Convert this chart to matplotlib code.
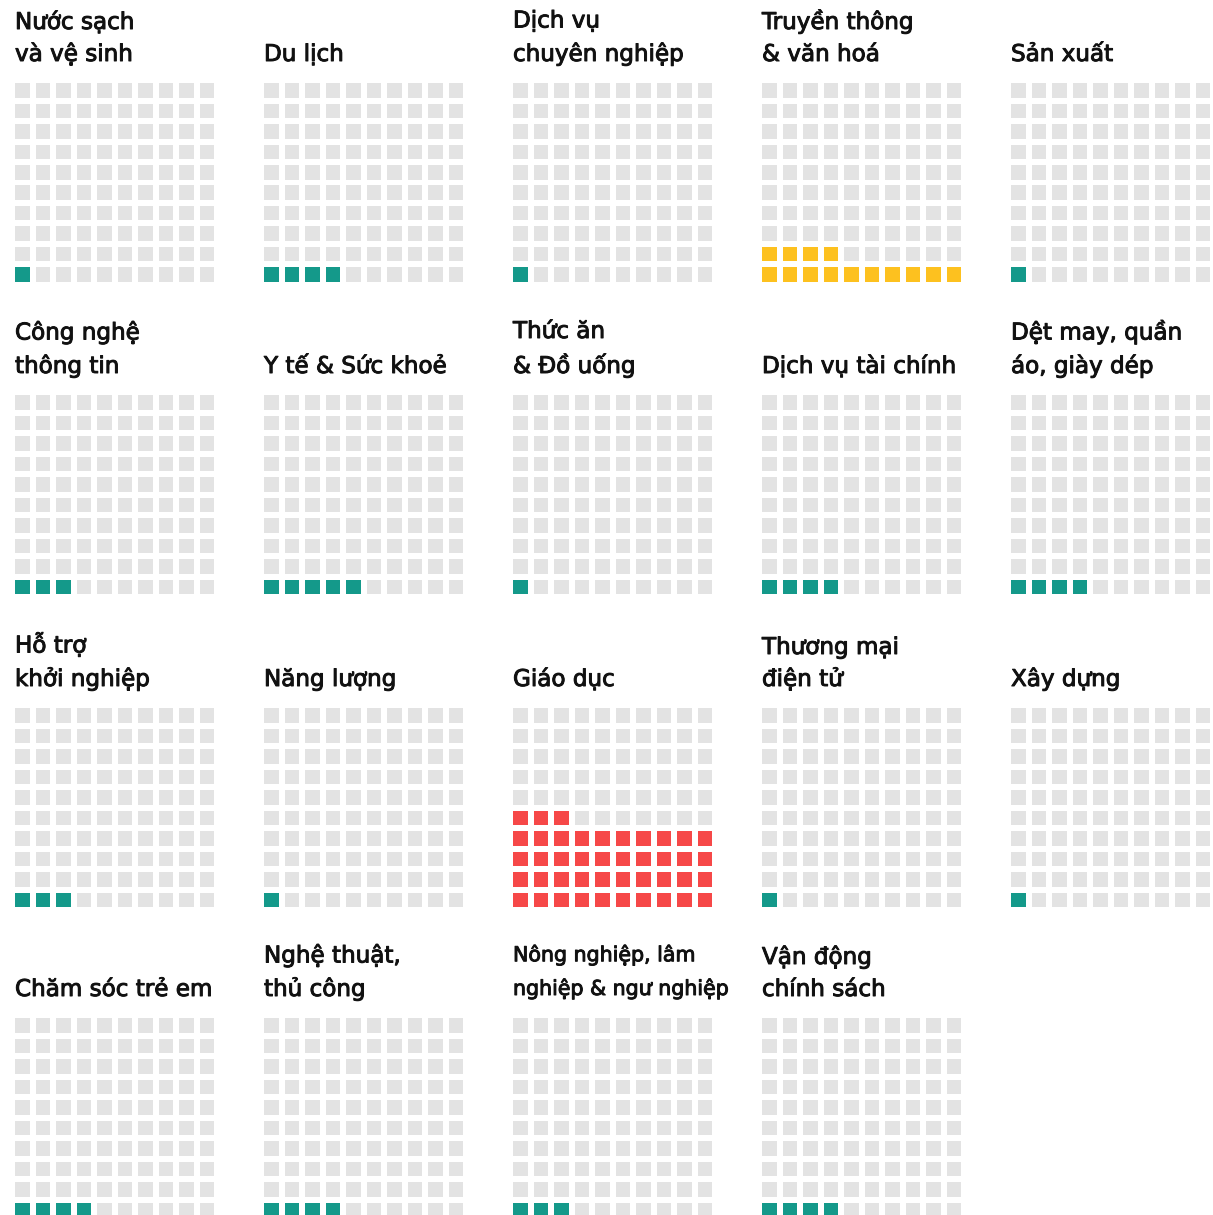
import matplotlib
matplotlib.use("Agg")
import matplotlib.pyplot as plt
import matplotlib.patheffects as pe
from matplotlib.patches import Rectangle

plt.rcParams['font.family'] = ['DejaVu Sans']

# Ngành và số ô được tô (trên 100 ô)
nganh = ["Nước sạch\nvà vệ sinh", "Du lịch", "Dịch vụ\nchuyên nghiệp", "Truyền thông\n& văn hoá", "Sản xuất",
         "Công nghệ\nthông tin", "Y tế & Sức khoẻ", "Thức ăn\n& Đồ uống", "Dịch vụ tài chính", "Dệt may, quần\náo, giày dép",
         "Hỗ trợ\nkhởi nghiệp", "Năng lượng", "Giáo dục", "Thương mại\nđiện tử", "Xây dựng",
         "Chăm sóc trẻ em", "Nghệ thuật,\nthủ công", "Nông nghiệp, lâm\nnghiệp & ngư nghiệp", "Vận động\nchính sách"]
so_o = [1, 4, 1, 14, 1,
        3, 5, 1, 4, 4,
        3, 1, 43, 1, 1,
        4, 4, 3, 4]

mau_nen = "#e3e3e3"
mau_mac_dinh = "#14998a"
mau_rieng = {"Truyền thông\n& văn hoá": "#fdc11f", "Giáo dục": "#f64848"}

W, H = 1213, 1215
fig = plt.figure(figsize=(W / 100, H / 100), dpi=100)

col_x = [15, 264, 513, 762, 1011]
row_y = [83, 395, 708, 1018]
buoc = 20.5
canh = 14.5
le = (buoc - canh) / 2
s = canh / buoc
g = (1 - s) / 2

for i, (ten, n) in enumerate(zip(nganh, so_o)):
    r, c = divmod(i, 5)
    x0 = col_x[c] - le
    y0 = row_y[r] - le
    ax = fig.add_axes([x0 / W, 1 - (y0 + 10 * buoc) / H, 10 * buoc / W, 10 * buoc / H])
    ax.set_xlim(0, 10)
    ax.set_ylim(0, 10)
    ax.axis("off")
    mau = mau_rieng.get(ten, mau_mac_dinh)
    for k in range(100):
        hang, cot = divmod(k, 10)
        ax.add_patch(Rectangle((cot + g, hang + g), s, s, color=mau if k < n else mau_nen, lw=0))
    dai = len(ten) > 30
    fs = 14.8 if dai else 16.6
    ax.text(3 / (10 * buoc), 1 + (16 if dai else 14) / (10 * buoc), ten, transform=ax.transAxes,
            ha="left", va="bottom", fontsize=fs, color="#111111", linespacing=1.7 if dai else 1.5,
            path_effects=[pe.withStroke(linewidth=0.7, foreground="#111111")])

fig.savefig("out.png", dpi=100)
